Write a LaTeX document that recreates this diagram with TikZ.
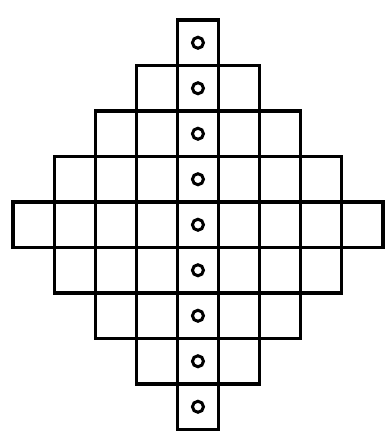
\documentclass[tikz,border=0pt]{standalone}
\usepackage{tikz}
\tikzset{
  gridcell/.style={draw, line width=3.2pt, minimum width=41.1pt, minimum height=45.5pt, inner sep=0pt, outer sep=0pt},
  cellmark/.style={circle, draw, line width=3pt, minimum size=11pt, inner sep=0pt}
}
\begin{document}
\begin{tikzpicture}[x=1pt, y=-1pt]
\useasboundingbox (0,0) rectangle (386,436);
% rows of the diamond, widths 1,3,5,7,9,7,5,3,1
\foreach \r/\n in {0/0,1/1,2/2,3/3,4/4,5/3,6/2,7/1,8/0} {
  \foreach \c in {-\n,...,\n} {
    \pgfmathtruncatemacro{\k}{\c}
    \node[gridcell] (c\r\k) at (197.95+41.1*\k, 42.75+45.5*\r) {};
  }
  \node[cellmark] (m\r) at (c\r0) {};
}
\end{tikzpicture}
\end{document}
